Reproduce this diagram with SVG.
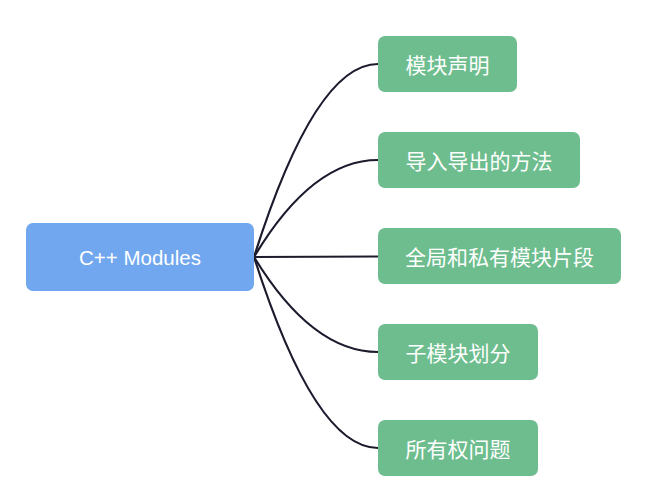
<svg xmlns="http://www.w3.org/2000/svg" width="649" height="492" viewBox="0 0 649 492">
<style>
.root{fill:#70a7ee}
.leaf{fill:#6dbd8e}
.t{font-family:"Noto Sans CJK SC","Liberation Sans",sans-serif;font-size:21px;fill:#ffffff;text-anchor:middle;dominant-baseline:central}
.rt{font-family:"Liberation Sans",Arial,sans-serif;font-size:20.5px;fill:#ffffff;text-anchor:middle;dominant-baseline:central}
.c{fill:none;stroke:#1b1b2e;stroke-width:2.2}
</style>
<rect width="649" height="492" fill="#ffffff"/>
<g id="connectors">
<path class="c" d="M254 257 Q315 64 378 64"/>
<path class="c" d="M254 257 Q312 160 378 160"/>
<path class="c" d="M254 257 L378 256.5"/>
<path class="c" d="M254 257 Q312 352 378 352"/>
<path class="c" d="M254 257 Q315 448 378 448"/>
</g>
<g id="root">
<rect class="root" x="26" y="223" width="228" height="68" rx="7"/>
<text class="rt" x="140" y="257">C++ Modules</text>
</g>
<g id="n1">
<rect class="leaf" x="378" y="36" width="139" height="56" rx="7"/>
<text class="t" x="447.5" y="64">模块声明</text>
</g>
<g id="n2">
<rect class="leaf" x="378" y="132" width="202" height="56" rx="7"/>
<text class="t" x="479" y="160">导入导出的方法</text>
</g>
<g id="n3">
<rect class="leaf" x="378" y="228" width="243" height="56" rx="7"/>
<text class="t" x="499.5" y="256">全局和私有模块片段</text>
</g>
<g id="n4">
<rect class="leaf" x="378" y="324" width="160" height="56" rx="7"/>
<text class="t" x="458" y="352">子模块划分</text>
</g>
<g id="n5">
<rect class="leaf" x="378" y="420" width="160" height="56" rx="7"/>
<text class="t" x="458" y="448">所有权问题</text>
</g>
</svg>
